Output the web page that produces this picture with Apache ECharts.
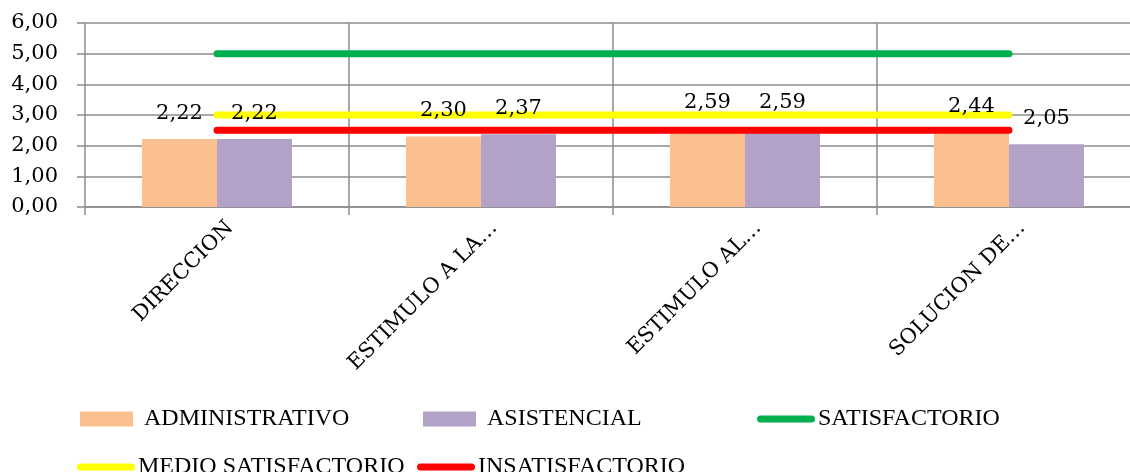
<!DOCTYPE html>
<html>
<head>
<meta charset="utf-8">
<script src="https://cdn.jsdelivr.net/npm/echarts@6/dist/echarts.min.js"></script>
<style>
  html, body { margin: 0; padding: 0; background: #fff; }
  #chart { width: 1130px; height: 472px; }
</style>
</head>
<body>
<div id="chart"></div>
<script>
// Category names (truncated as shown on the axis)
const categories = ['DIRECCION', 'ESTIMULO A LA…', 'ESTIMULO AL…', 'SOLUCION DE…'];

// Average scores per staff group
const administrativo = [2.22, 2.30, 2.59, 2.44];
const asistencial = [2.22, 2.37, 2.59, 2.05];

// Reference thresholds
const satisfactorio = [5, 5, 5, 5];
const medioSatisfactorio = [3, 3, 3, 3];
const insatisfactorio = [2.5, 2.5, 2.5, 2.5];

// Y-axis tick labels
const yTicks = ['0,00', '1,00', '2,00', '3,00', '4,00', '5,00', '6,00'];

const serif = '"DejaVu Serif", "Liberation Serif", serif';
const legendFont = '"Liberation Serif", serif';
const gridGray = '#8c8c8c';

const fmt = v => v.toFixed(2).replace('.', ',');

// Pill-shaped icon for the threshold lines in the legend
const pillIcon = 'path://M3.5,0 L54.5,0 A3.5,3.5 0 0 1 54.5,7 L3.5,7 A3.5,3.5 0 0 1 3.5,0 Z';

function legendAt(name, left, top, isLine) {
  return {
    data: [name],
    left: left,
    top: top,
    padding: 0,
    icon: isLine ? pillIcon : 'rect',
    itemWidth: isLine ? 58 : 53,
    itemHeight: isLine ? 7 : 15,
    selectedMode: false,
    textStyle: {
      fontFamily: legendFont,
      fontSize: 24,
      color: '#000',
      padding: isLine ? [0, 0, 0, -2] : [0, 0, 0, 6]
    }
  };
}

const barBase = { type: 'bar', barWidth: 75, barGap: '0%' };

// Transparent copies of the bars on an overlaid axis carry the value labels,
// so the labels sit above the threshold lines
function labelSeries(data) {
  return Object.assign({}, barBase, {
    name: '',
    xAxisIndex: 1,
    data: data,
    itemStyle: { color: 'rgba(0,0,0,0)' },
    silent: true,
    z: 5,
    label: {
      show: true,
      position: 'top',
      distance: 15,
      color: '#000',
      fontFamily: serif,
      fontSize: 21,
      formatter: p => fmt(p.value)
    }
  });
}

const chart = echarts.init(document.getElementById('chart'), null, { renderer: 'canvas' });

chart.setOption({
  animation: false,
  backgroundColor: '#fff',
  grid: { left: 85, top: 23, width: 1056, height: 184, containLabel: false, outerBoundsMode: 'none' },
  legend: [
    legendAt('ADMINISTRATIVO', 80, 407, false),
    legendAt('ASISTENCIAL', 423, 407, false),
    legendAt('SATISFACTORIO', 757, 407, true),
    legendAt('MEDIO SATISFACTORIO', 77, 455, true),
    legendAt('INSATISFACTORIO', 417, 455, true)
  ],
  xAxis: [
    {
      type: 'category',
      data: categories,
      boundaryGap: true,
      axisLine: { show: true, lineStyle: { color: gridGray, width: 1.5 } },
      axisTick: { show: true, length: 8, lineStyle: { color: gridGray, width: 1.5 } },
      splitLine: { show: true, lineStyle: { color: gridGray, width: 1.5 } },
      axisLabel: {
        rotate: 45,
        margin: 16,
        verticalAlign: 'top',
        padding: [0, -8, 0, 0],
        color: '#000',
        fontFamily: serif,
        fontSize: 21,
        interval: 0
      }
    },
    {
      type: 'category',
      data: categories,
      boundaryGap: true,
      show: false
    }
  ],
  yAxis: {
    type: 'value',
    min: 0,
    max: 6,
    interval: 1,
    axisLine: { show: false },
    axisTick: { show: true, length: 8, lineStyle: { color: gridGray, width: 1.5 } },
    splitLine: { show: true, lineStyle: { color: gridGray, width: 1.5 } },
    axisLabel: {
      margin: 27,
      color: '#000',
      fontFamily: serif,
      fontSize: 21,
      formatter: v => yTicks[Math.round(v)]
    }
  },
  series: [
    Object.assign({}, barBase, {
      name: 'ADMINISTRATIVO',
      data: administrativo,
      itemStyle: { color: '#FAC090' },
      z: 2
    }),
    Object.assign({}, barBase, {
      name: 'ASISTENCIAL',
      data: asistencial,
      itemStyle: { color: '#B3A2C7' },
      z: 2
    }),
    {
      name: 'SATISFACTORIO',
      type: 'line',
      data: satisfactorio,
      symbol: 'none',
      lineStyle: { color: '#00B050', width: 7, cap: 'round' },
      itemStyle: { color: '#00B050' },
      z: 3
    },
    {
      name: 'MEDIO SATISFACTORIO',
      type: 'line',
      data: medioSatisfactorio,
      symbol: 'none',
      lineStyle: { color: '#FFFF00', width: 7, cap: 'round' },
      itemStyle: { color: '#FFFF00' },
      z: 3
    },
    {
      name: 'INSATISFACTORIO',
      type: 'line',
      data: insatisfactorio,
      symbol: 'none',
      lineStyle: { color: '#FF0000', width: 7, cap: 'round' },
      itemStyle: { color: '#FF0000' },
      z: 3
    },
    labelSeries(administrativo),
    labelSeries(asistencial)
  ]
});
</script>
</body>
</html>
